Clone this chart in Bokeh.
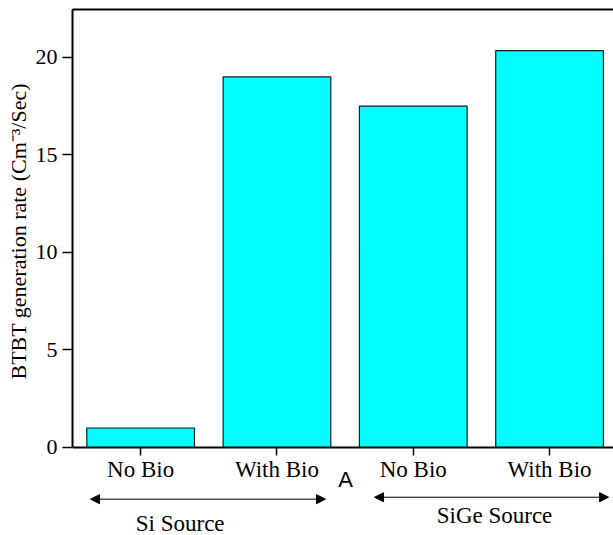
from bokeh.plotting import figure
from bokeh.models import Range1d, FixedTicker, LinearAxis, Arrow, NormalHead, Title
from bokeh.core.properties import value
from bokeh.embed import file_html
from bokeh.resources import INLINE

# BTBT generation rate for each source / biomolecule condition
conditions = ["No Bio", "With Bio", "No Bio", "With Bio"]
source_groups = ["Si Source", "SiGe Source"]
btbt_rate = [1.0, 19.0, 17.5, 20.35]
y_ticks = [0, 5, 10, 15, 20]
y_title = "BTBT generation rate (Cm\u207b\u00b3/Sec)"

positions = list(range(1, len(conditions) + 1))

SERIF = "Liberation Serif"
SANS = "Liberation Sans"
Y_TOP = 22.46
Y_BOTTOM = -4.513  # room under the value axis for the group annotations

p = figure(
    width=613, height=535,
    x_range=Range1d(0.5, 4.469), y_range=Range1d(Y_BOTTOM, Y_TOP),
    output_backend="svg", toolbar_location=None,
    min_border_left=72, min_border_right=0, min_border_top=9, min_border_bottom=0,
)
p.outline_line_color = None
p.xgrid.visible = False
p.ygrid.visible = False

p.vbar(x=positions, top=btbt_rate, width=0.79,
       fill_color="#00FFFF", line_color="#1a1a1a", line_width=1.2)

# category axis sits at y = 0 inside the frame
xa = p.xaxis[0]
xa.fixed_location = 0
xa.ticker = FixedTicker(ticks=positions)
xa.major_label_overrides = {pos: name for pos, name in zip(positions, conditions)}
xa.major_tick_out = 8
xa.major_label_text_font_size = "23px"
xa.major_label_standoff = 2

# value axis, drawn only over the positive range
ya = p.yaxis[0]
ya.bounds = (0, Y_TOP)
ya.ticker = FixedTicker(ticks=y_ticks)
ya.major_tick_out = 10
ya.major_label_text_font_size = "22px"
ya.major_label_standoff = 5

for ax in (xa, ya):
    ax.axis_line_width = 2
    ax.axis_line_color = "black"
    ax.major_tick_in = 0
    ax.minor_tick_out = 0
    ax.minor_tick_in = 0
    ax.major_tick_line_width = 1.5
    ax.major_tick_line_color = "black"
    ax.major_label_text_font = SERIF
    ax.major_label_text_color = "black"

# value-axis title, placed along the positive part of the axis
p.add_layout(Title(text=y_title, align="left", offset=156, standoff=4,
                   text_font=SERIF, text_font_size="22px", text_font_style="normal",
                   text_color="black"), "left")

# top border line
top = LinearAxis(ticker=FixedTicker(ticks=[]), axis_line_width=2, axis_line_color="black",
                 major_tick_out=0, major_tick_in=0, minor_tick_out=0, minor_tick_in=0,
                 major_label_text_font_size="0px")
p.add_layout(top, "above")

# source group arrows and names under the axis
group_spans = [(positions[0], positions[1]), (positions[2], positions[3])]
arrow_y = [-2.65, -2.55]
arrow_ext = [(-0.368, 0.356), (-0.284, 0.433)]
name_pos = [(1.29, -3.9), (3.596, -3.5)]
for (a, b), ay, (e0, e1) in zip(group_spans, arrow_y, arrow_ext):
    p.add_layout(Arrow(
        start=NormalHead(size=9, fill_color="black", line_color="black"),
        end=NormalHead(size=9, fill_color="black", line_color="black"),
        x_start=a + e0, x_end=b + e1, y_start=ay, y_end=ay,
        line_width=1, line_color="black"))

p.text(x=[xy[0] for xy in name_pos], y=[xy[1] for xy in name_pos], text=source_groups,
       text_align="center", text_baseline="middle",
       text_font=value(SERIF), text_font_size="23px", text_color="black")

p.text(x=[2.503], y=[-1.65], text=["A"], text_align="center", text_baseline="middle",
       text_font=value(SANS), text_font_size="22px", text_color="black")

open("out.html", "w").write(file_html(p, INLINE))
